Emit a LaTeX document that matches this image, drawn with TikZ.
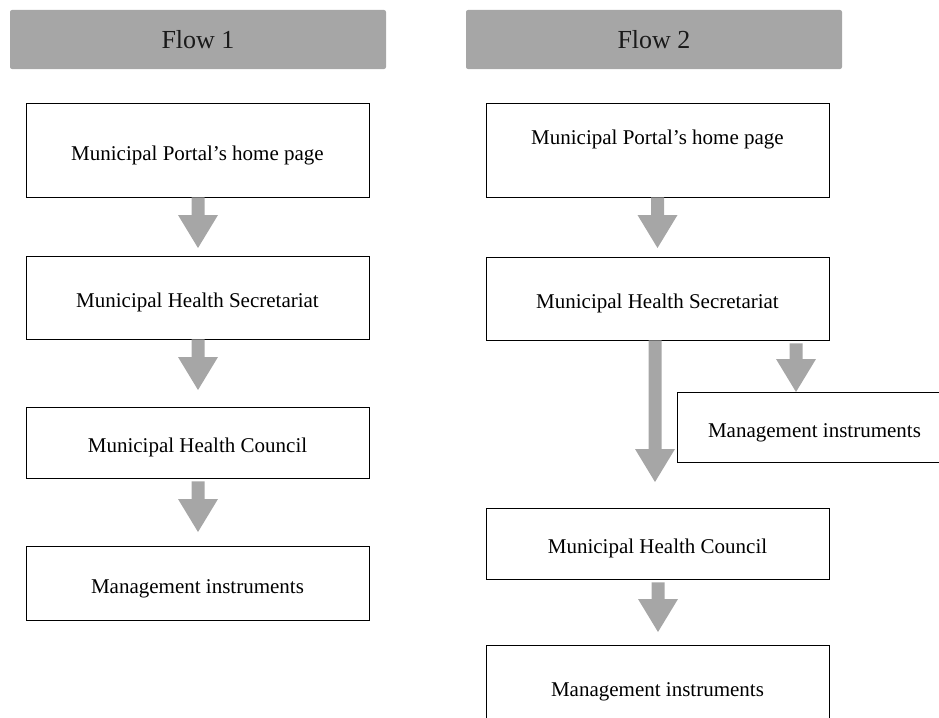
\documentclass[tikz,border=0pt]{standalone}
\usepackage{fontspec}
\setmainfont{Liberation Serif}
\usetikzlibrary{calc}
\definecolor{hdrgray}{HTML}{A6A6A6}
\definecolor{arrgray}{HTML}{A6A6A6}
\definecolor{hdrtext}{HTML}{1A1A1A}
\tikzset{
  header/.style={fill=hdrgray, draw=none, rounded corners=2pt, minimum width=376pt, minimum height=59pt, inner sep=0pt, text=hdrtext, font=\fontsize{26}{30}\selectfont},
  flowbox/.style={draw=black, line width=0.9pt, fill=white, inner sep=0pt, text height=24pt, text depth=4pt, font=\fontsize{21}{25}\selectfont},
  boxtext/.style={inner sep=0pt, font=\fontsize{21}{25}\selectfont},
}
\newcommand{\blockarr}[2]{%
  \fill[arrgray] let \p1=(#1), \p2=(#2) in
    (\x2-6.5pt,\y1) -- (\x2+6.5pt,\y1) -- (\x2+6.5pt,\y2+33pt) -- (\x2+20pt,\y2+33pt)
    -- (\x2,\y2) -- (\x2-20pt,\y2+33pt) -- (\x2-6.5pt,\y2+33pt) -- cycle;}
\begin{document}
\begin{tikzpicture}[x=1pt,y=-1pt]
\useasboundingbox (0,0) rectangle (939,717);
% headers
\node[header] (h1) at (198,39.5) {Flow 1};
\node[header] (h2) at (654,39.5) {Flow 2};
% Flow 1
\node[flowbox, minimum width=343pt, minimum height=94pt] (a1) at (197.5,150) {Municipal Portal’s home page};
\node[flowbox, minimum width=343pt, minimum height=83pt] (a2) at (197.5,297.5) {Municipal Health Secretariat};
\node[flowbox, minimum width=343pt, minimum height=71pt] (a3) at (197.5,442.5) {Municipal Health Council};
\node[flowbox, minimum width=343pt, minimum height=74pt] (a4) at (197.5,583) {Management instruments};
\coordinate (ta1) at (198,248);
\coordinate (ta2) at (198,390);
\coordinate (ta3) at (198,532);
\blockarr{a1.south}{ta1}
\blockarr{a2.south}{ta2}
\blockarr{[yshift=-3pt]a3.south}{ta3}
% Flow 2
\node[flowbox, minimum width=343pt, minimum height=94pt] (b1) at (657.5,150) {};
\node[boxtext] (b1t) at (657.5,139) {Municipal Portal’s home page};
\node[flowbox, minimum width=343pt, minimum height=83pt] (b2) at (657.5,298.5) {Municipal Health Secretariat};
\node[flowbox, minimum width=275pt, minimum height=70pt] (b5) at (814.5,427) {Management instruments};
\node[flowbox, minimum width=343pt, minimum height=71pt] (b3) at (657.5,543.5) {Municipal Health Council};
\node[flowbox, minimum width=343pt, minimum height=83pt] (b4) at (657.5,686.5) {Management instruments};
\coordinate (tb1) at (657.5,248);
\coordinate (tb2) at (655,482);
\coordinate (tb5) at (796,392);
\coordinate (tb3) at (658,632);
\blockarr{b1.south}{tb1}
\blockarr{b2.south}{tb2}
\blockarr{[yshift=-3pt]b2.south}{tb5}
\blockarr{[yshift=-3pt]b3.south}{tb3}
\end{tikzpicture}
\end{document}
